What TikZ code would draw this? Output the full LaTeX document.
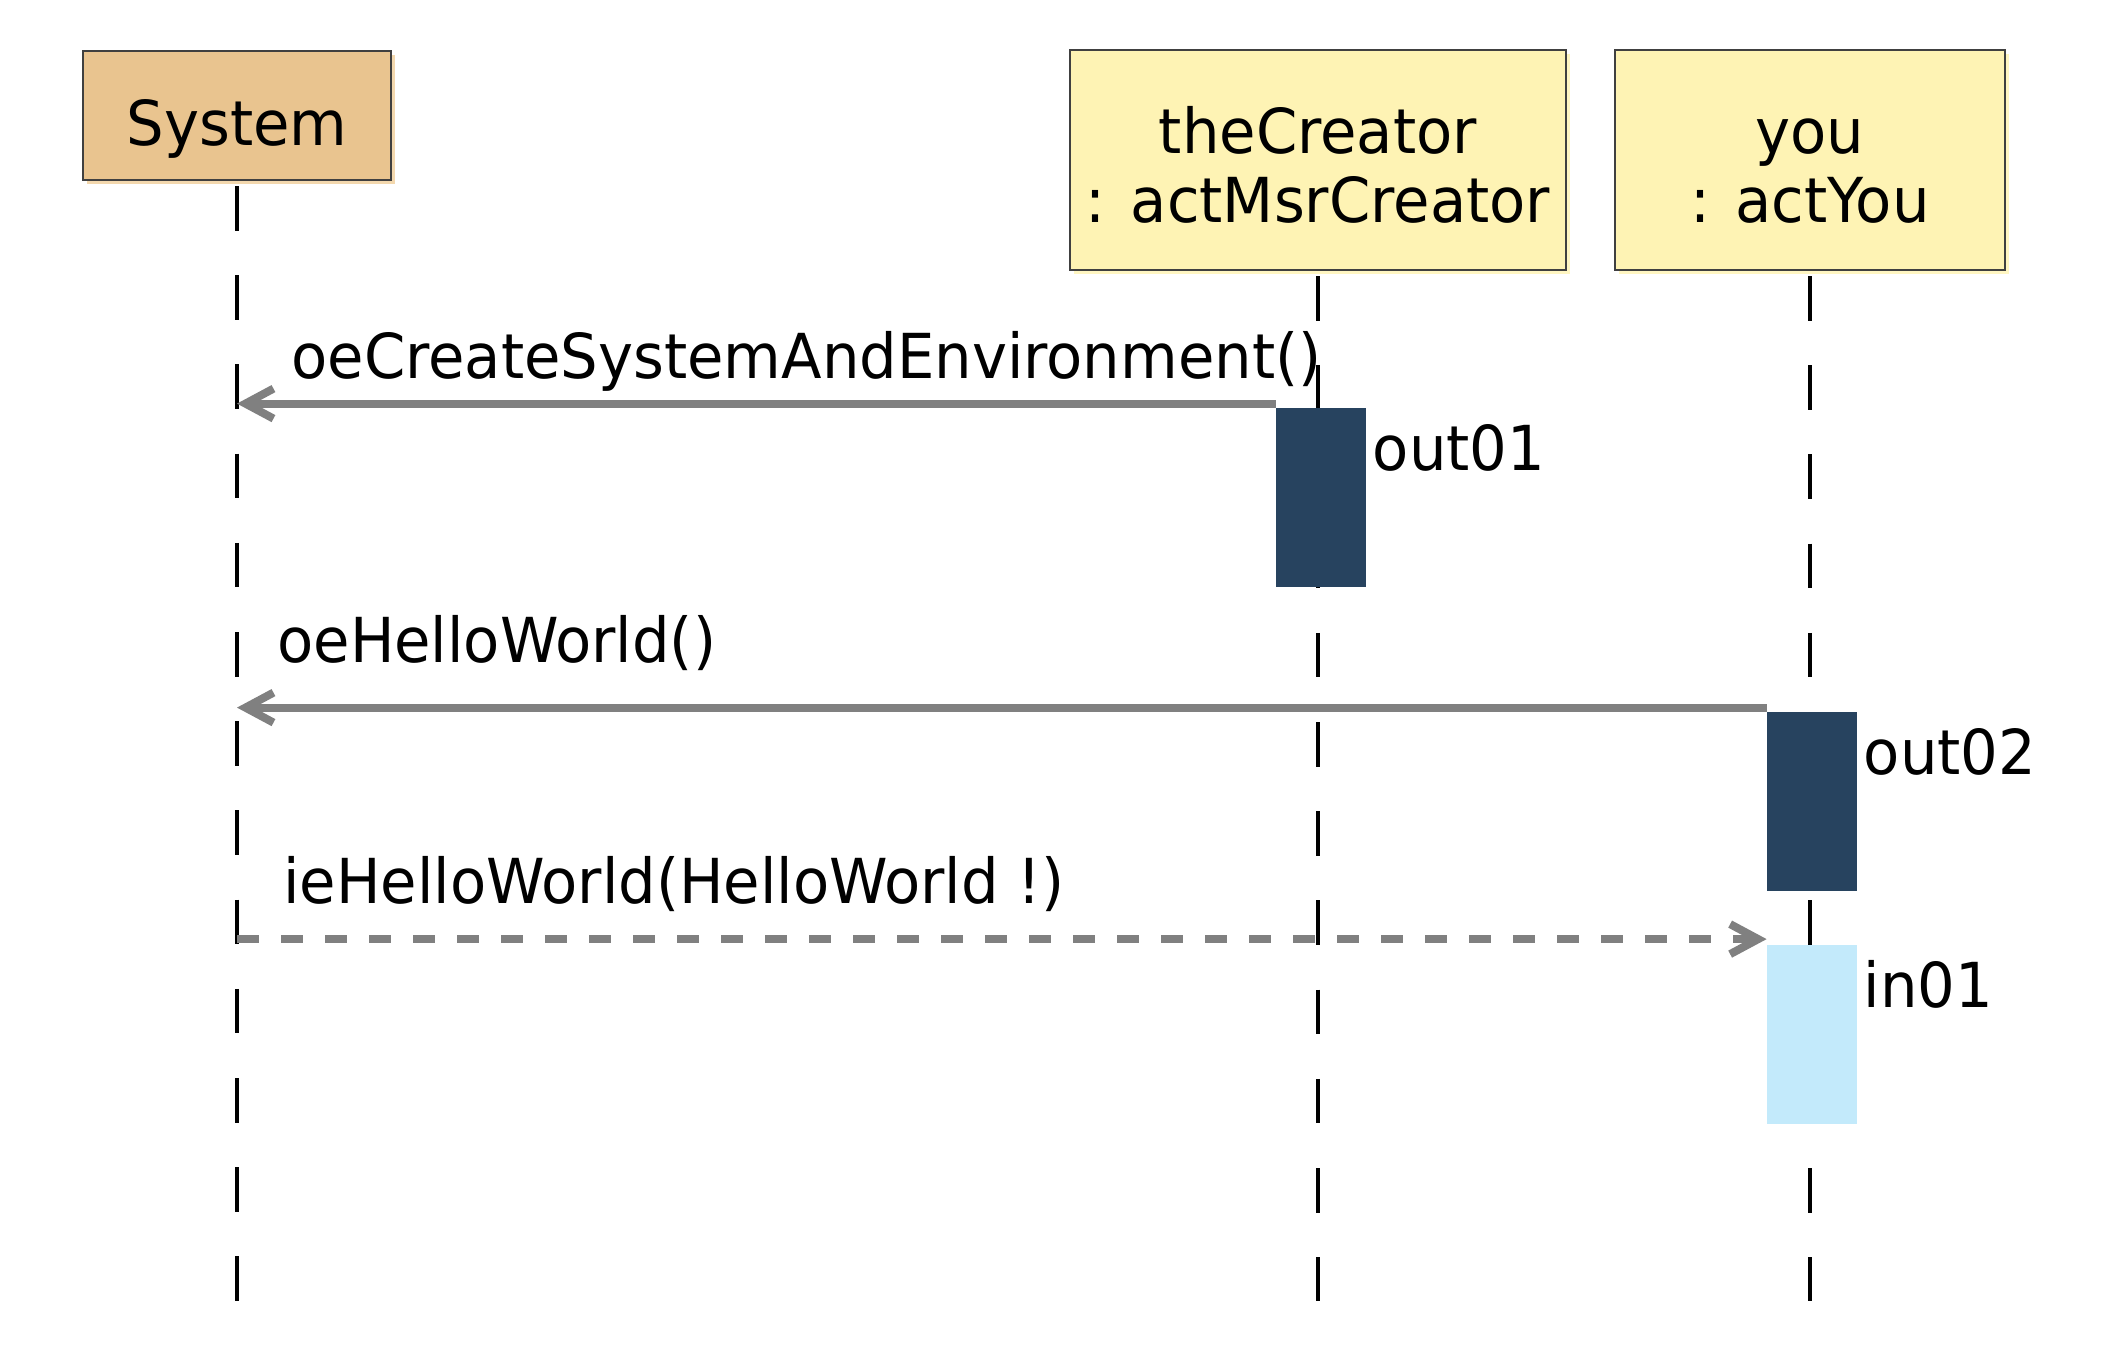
\documentclass[tikz,border=0pt]{standalone}
\usepackage{fontspec}
\setmainfont{DejaVu Sans}[FakeStretch=0.955]
\usetikzlibrary{arrows.meta,shadows}

\definecolor{sysfill}{RGB}{233,196,143}
\definecolor{sysshade}{RGB}{243,216,174}
\definecolor{objfill}{RGB}{254,243,180}
\definecolor{objshade}{RGB}{255,246,194}
\definecolor{outfill}{RGB}{39,67,95}
\definecolor{infill}{RGB}{195,234,251}
\definecolor{msggray}{RGB}{128,128,128}

\begin{document}
\begin{tikzpicture}[x=0.5pt,y=-0.5pt,
    txt/.style={font=\fontsize{31pt}{34.5pt}\selectfont, inner sep=0pt},
    head/.style={rectangle, draw=black!75, line width=1pt, inner sep=0pt},
    actbox/.style={rectangle, inner sep=0pt, minimum width=45pt, minimum height=89.5pt},
    lifeline/.style={line width=1.8pt, dash pattern=on 22.3pt off 22.3pt, shorten <=2.5pt},
    msg/.style={draw=msggray, line width=4pt, -{Straight Barb[sharp,length=14pt,width=15pt]}},
    msgdash/.style={msg, dash pattern=on 11pt off 11pt}]
          \path[use as bounding box, fill=white] (0,0) rectangle (2118,1356);
          % heads
          \node[head, fill=sysfill, drop shadow={shadow xshift=2pt, shadow yshift=-2pt, fill=sysshade, opacity=1},
                minimum width=154pt, minimum height=64.5pt] (sys) at (237,115.5) {};
          \node[head, fill=objfill, drop shadow={shadow xshift=2pt, shadow yshift=-2pt, fill=objshade, opacity=1},
                minimum width=248pt, minimum height=110pt] (cre) at (1318,160) {};
          \node[head, fill=objfill, drop shadow={shadow xshift=2pt, shadow yshift=-2pt, fill=objshade, opacity=1},
                minimum width=195pt, minimum height=110pt] (you) at (1810,160) {};
          \node[txt] (sysT) at ([yshift=-6.9pt]sys.center) {System};
          \node[txt, align=center] (creT) at ([yshift=-2.5pt]cre.center) {theCreator\\: actMsrCreator};
          \node[txt, align=center] (youT) at ([yshift=-5.5pt]you.center) {you\\: actYou};
          % lifelines
          \coordinate (bot) at (0,1301);
          \draw[lifeline] (sys.south) -- (sys.south |- bot);
          \draw[lifeline] (cre.south) -- (cre.south |- bot);
          \draw[lifeline] (you.south) -- (you.south |- bot);
          % activations
          \node[actbox, fill=outfill] (out1) at (1321,497.5) {};
          \node[actbox, fill=outfill] (out2) at (1812,801.5) {};
          \node[actbox, fill=infill] (in1) at (1812,1034) {};
          \node[txt, anchor=base west] (out1T) at ([xshift=3pt,yshift=-31.5pt]out1.north east) {out01};
          \node[txt, anchor=base west] (out2T) at ([xshift=3pt,yshift=-31.5pt]out2.north east) {out02};
          \node[txt, anchor=base west] (in1T) at ([xshift=3pt,yshift=-31.5pt]in1.north east) {in01};
          % messages
          \coordinate (m1) at ([yshift=2pt]out1.north west);
          \coordinate (s1) at (sys |- m1);
          \draw[msg] (m1) -- (s1);
          \node[txt, anchor=base west] (m1T) at ([xshift=27pt,yshift=12.5pt]s1) {oeCreateSystemAndEnvironment()};
          \coordinate (m2) at ([yshift=2pt]out2.north west);
          \coordinate (s2) at (sys |- m2);
          \draw[msg] (m2) -- (s2);
          \node[txt, anchor=base west] (m2T) at ([xshift=20pt,yshift=22.5pt]s2) {oeHelloWorld()};
          \coordinate (m3) at ([yshift=2.5pt]in1.north west);
          \coordinate (s3) at (sys |- m3);
          \draw[msgdash] (s3) -- (m3);
          \node[txt, anchor=base west] (m3T) at ([xshift=23pt,yshift=18pt]s3) {ieHelloWorld(HelloWorld !)};
        \end{tikzpicture}
\end{document}
